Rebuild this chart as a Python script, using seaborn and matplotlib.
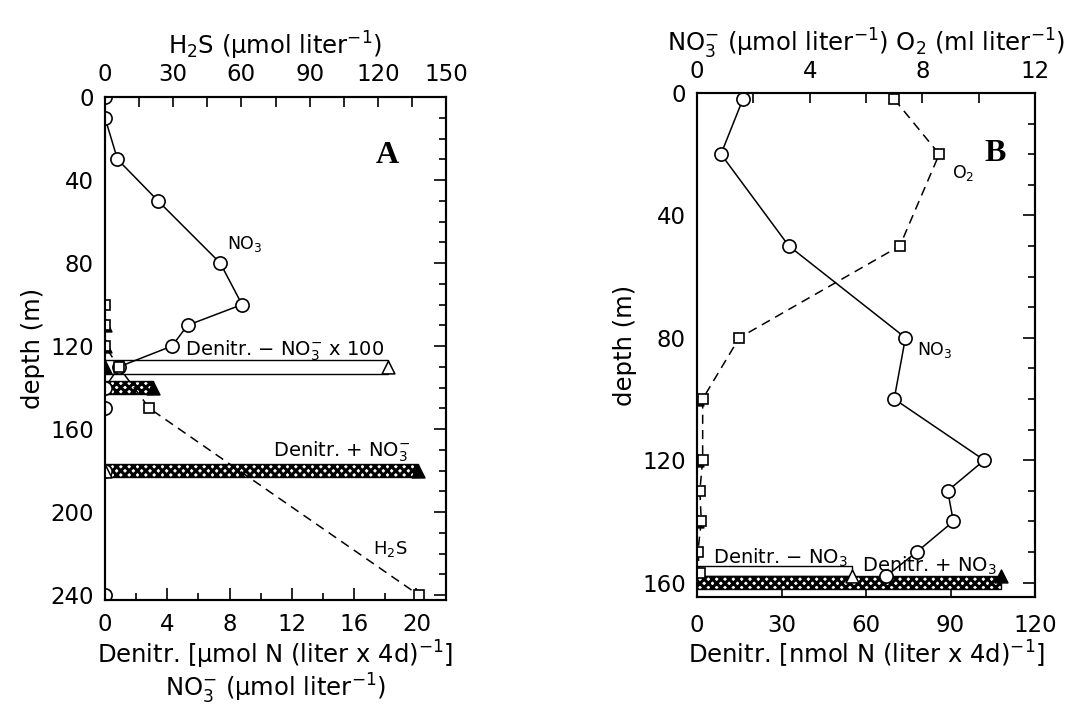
import matplotlib
matplotlib.use("Agg")
import matplotlib.pyplot as plt
from matplotlib.ticker import MultipleLocator
import seaborn as sns

#Panel A - profile values (depth in m)
a_no3_depth = [0, 10, 30, 50, 80, 100, 110, 120, 130, 140, 150, 180, 240]
a_no3 = [0, 0, 0.8, 3.4, 7.4, 8.8, 5.3, 4.3, 0.9, 0, 0, 0, 0]
a_h2s_depth = [100, 110, 120, 130, 150, 240]
a_h2s = [0, 0, 0, 6, 19.5, 138]
a_plus_depth = [110, 120, 130, 140, 180]
a_plus = [0, 0, 0, 3.1, 20.1]
a_minus_depth = [130, 180]
a_minus = [18.2, 0]

#Panel B
b_no3_depth = [2, 20, 50, 80, 100, 120, 130, 140, 150, 158]
b_no3 = [1.63, 0.85, 3.26, 7.4, 7.0, 10.2, 8.9, 9.1, 7.8, 6.7]
b_o2_depth = [2, 20, 50, 80, 100, 120, 130, 140, 150, 157]
b_o2 = [7.0, 8.6, 7.2, 1.5, 0.2, 0.2, 0.1, 0.15, 0.03, 0.1]
b_plus_depth = [100, 120, 140, 158]
b_plus = [0, 0, 0, 108]
b_minus_depth = [158]
b_minus = [55]

sns.set_style("white")
plt.rcParams["font.family"] = ["DejaVu Sans"]
plt.rcParams["hatch.linewidth"] = 2.2
plt.rcParams["mathtext.fontset"] = "dejavusans"
plt.rcParams["text.color"] = "black"
plt.rcParams["axes.labelcolor"] = "black"
plt.rcParams["xtick.color"] = "black"
plt.rcParams["ytick.color"] = "black"

TICK_FS = 16.5
LABEL_FS = 17.5
NOTE_FS = 14


#Draw one vertical profile (value vs depth)
def profile(ax, x, y, marker, ms, dashed=False):
    sns.lineplot(x=x, y=y, orient="y", sort=False, errorbar=None, ax=ax,
                 color="black", lw=1.1, ls=(0, (6, 4)) if dashed else "-",
                 marker=marker, ms=ms, mfc="white", mec="black", mew=1.2)


#Denitrification triangles
def triangles(ax, x, y, filled):
    sns.scatterplot(x=x, y=y, marker="^", s=85, ax=ax, zorder=5,
                    color="black" if filled else "white",
                    edgecolor="black", linewidth=1.1)


#Horizontal rate bars, open or cross hatched
def rate_bars(ax, depths, values, height, hatched, align="center"):
    for d, v in zip(depths, values):
        if v <= 0:
            continue
        if hatched:
            ax.barh(d, v, height=height, align=align, color="white",
                    edgecolor="black", hatch="xxxx", lw=1.0, zorder=2)
        else:
            ax.barh(d, v, height=height, align=align, color="white",
                    edgecolor="black", lw=1.0, zorder=2)


#Common frame and tick formatting
def style_axes(ax, ax_top, pad_bottom, pad_top):
    for a in (ax, ax_top):
        for s in a.spines.values():
            s.set_linewidth(1.5)
            s.set_color("black")
    ax.tick_params(which="both", direction="in", top=False, right=True,
                   labelsize=TICK_FS, width=1.2)
    ax.tick_params(axis="x", pad=pad_bottom)
    ax.tick_params(axis="y", pad=8)
    ax.tick_params(which="major", length=9)
    ax.tick_params(which="minor", length=5)
    ax_top.tick_params(axis="x", which="both", direction="in", bottom=False,
                       top=True, labelsize=TICK_FS, width=1.2, pad=pad_top)
    ax_top.tick_params(axis="x", which="major", length=7)
    ax_top.tick_params(axis="x", which="minor", length=7)
    ax.yaxis.set_major_locator(MultipleLocator(40))
    ax.yaxis.set_minor_locator(MultipleLocator(10))


fig = plt.figure(figsize=(10.76, 7.09), dpi=100)

#---------------- Panel A ----------------
ax_a = fig.add_axes([0.0976, 0.1537, 0.3169, 0.7094])
ax_at = ax_a.twiny()

rate_bars(ax_a, a_minus_depth, a_minus, 6.5, hatched=False)
rate_bars(ax_a, a_plus_depth, a_plus, 6.5, hatched=True)
profile(ax_a, a_no3, a_no3_depth, "o", 9.5)
profile(ax_at, a_h2s, a_h2s_depth, "s", 7.5, dashed=True)
triangles(ax_a, a_plus, a_plus_depth, filled=True)
triangles(ax_a, a_minus, a_minus_depth, filled=False)

ax_a.set_xlim(0, 21.9)
ax_at.set_xlim(0, 150)
ax_a.set_ylim(242.4, 0)
ax_a.xaxis.set_major_locator(MultipleLocator(4))
ax_a.xaxis.set_minor_locator(MultipleLocator(2))
ax_at.xaxis.set_major_locator(MultipleLocator(30))
ax_at.xaxis.set_minor_locator(MultipleLocator(15))
style_axes(ax_a, ax_at, 9, 8)

ax_a.set_ylabel("depth (m)", fontsize=LABEL_FS, labelpad=4)
ax_a.set_xlabel(r"Denitr. [µmol N (liter x 4d)$^{-1}$]", fontsize=LABEL_FS,
                labelpad=2)
ax_a.text(0.5, -0.176, r"NO$_3^{-}$ (µmol liter$^{-1}$)", fontsize=LABEL_FS,
          ha="center", va="center", transform=ax_a.transAxes)
ax_at.set_xlabel(r"H$_2$S (µmol liter$^{-1}$)", fontsize=LABEL_FS, labelpad=6)

ax_a.text(7.85, 71, r"NO$_3$", fontsize=12.5, va="center")
ax_a.text(5.15, 122.4, r"Denitr. $-$ NO$_3^{-}$ x 100", fontsize=NOTE_FS,
          va="center")
ax_a.text(10.8, 171, r"Denitr. + NO$_3^{-}$", fontsize=NOTE_FS, va="center")
ax_a.text(17.2, 218, r"H$_2$S", fontsize=13, va="center")
ax_a.text(17.4, 28, "A", fontsize=23, fontweight="bold",
          family="Liberation Serif", va="center")

#---------------- Panel B ----------------
ax_b = fig.add_axes([0.6478, 0.158, 0.3141, 0.7109])
ax_bt = ax_b.twiny()

rate_bars(ax_b, b_minus_depth, b_minus, -3.4, hatched=False, align="edge")
rate_bars(ax_b, b_plus_depth, b_plus, 4.2, hatched=True, align="edge")
profile(ax_bt, b_no3, b_no3_depth, "o", 9.5)
profile(ax_bt, b_o2, b_o2_depth, "s", 7.5, dashed=True)
triangles(ax_b, b_plus, b_plus_depth, filled=True)
triangles(ax_b, b_minus, b_minus_depth, filled=False)

ax_b.set_xlim(0, 120)
ax_bt.set_xlim(0, 12)
ax_b.set_ylim(164.7, 0)
ax_b.xaxis.set_major_locator(MultipleLocator(30))
ax_b.xaxis.set_minor_locator(MultipleLocator(30))
ax_bt.xaxis.set_major_locator(MultipleLocator(4))
ax_bt.xaxis.set_minor_locator(MultipleLocator(2))
style_axes(ax_b, ax_bt, 12, 7)

ax_b.set_ylabel("depth (m)", fontsize=LABEL_FS, labelpad=4)
ax_b.set_xlabel(r"Denitr. [nmol N (liter x 4d)$^{-1}$]", fontsize=LABEL_FS,
                labelpad=2)
ax_bt.set_xlabel(r"NO$_3^{-}$ (µmol liter$^{-1}$) O$_2$ (ml liter$^{-1}$)",
                 fontsize=LABEL_FS, labelpad=6)

ax_bt.text(9.04, 26, r"O$_2$", fontsize=12.5, va="center")
ax_bt.text(10.2, 19.7, "B", fontsize=23, fontweight="bold",
           family="Liberation Serif", va="center")
ax_bt.text(7.8, 84, r"NO$_3$", fontsize=12.5, va="center")
ax_bt.text(0.57, 152, r"Denitr. $-$ NO$_3$", fontsize=NOTE_FS, va="center")
ax_bt.text(5.85, 154.6, r"Denitr. + NO$_3$", fontsize=NOTE_FS, va="center")

fig.savefig("out.png", dpi=100, facecolor="white")
